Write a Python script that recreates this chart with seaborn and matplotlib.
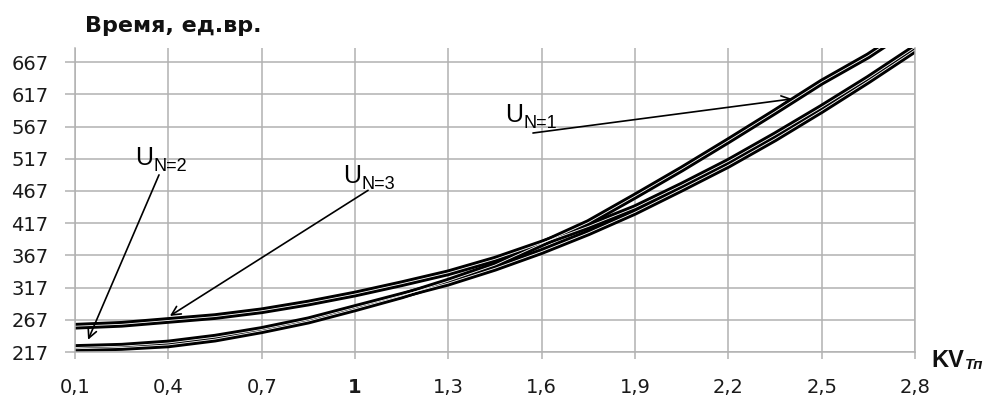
import numpy as np
import pandas as pd
import matplotlib
matplotlib.use("Agg")
import matplotlib.pyplot as plt
import seaborn as sns

# ---- data ----
kv = [0.1, 0.25, 0.4, 0.55, 0.7, 0.85, 1.0, 1.15, 1.3, 1.45, 1.6, 1.75,
      1.9, 2.05, 2.2, 2.35, 2.5, 2.65, 2.8]
u_n1 = [222, 224, 228, 237, 250, 265, 284, 304, 327, 352, 385, 418,
        459, 501, 545, 590, 636, 677, 725]
u_n2 = [224, 226, 231, 240, 252, 267, 286, 305, 324, 347, 373, 402,
        434, 470, 507, 548, 592, 638, 686]
u_n3 = [257, 260, 266, 272, 281, 293, 307, 323, 340, 361, 386, 412,
        441, 476, 513, 554, 597, 642, 690]
series_names = ["U_N=1", "U_N=2", "U_N=3"]

x_ticks = [0.1, 0.4, 0.7, 1.0, 1.3, 1.6, 1.9, 2.2, 2.5, 2.8]
x_tick_labels = ["0,1", "0,4", "0,7", "1", "1,3", "1,6", "1,9", "2,2", "2,5", "2,8"]
y_ticks = [217, 267, 317, 367, 417, 467, 517, 567, 617, 667]
y_title = "Время, ед.вр."

df = pd.DataFrame({
    "kv": kv * 3,
    "t": u_n1 + u_n2 + u_n3,
    "series": sum([[n] * len(kv) for n in series_names], []),
})

sns.set_theme(style="white")
plt.rcParams["font.family"] = ["DejaVu Sans"]

fig = plt.figure(figsize=(9.89, 4.01), dpi=100)
ax = fig.add_axes([75 / 989, 1 - 352 / 401, 840 / 989, 304 / 401])

grid_c = "#b2b2b2"
ax.set_xlim(0.1, 2.8)
ax.set_ylim(217, 689)
ax.set_xticks(x_ticks)
ax.set_xticklabels(x_tick_labels)
ax.set_yticks(y_ticks)
ax.grid(True, color=grid_c, lw=1.1)
ax.set_axisbelow(True)
ax.spines["top"].set_visible(False)
for s in ["left", "bottom", "right"]:
    ax.spines[s].set_color(grid_c)
    ax.spines[s].set_linewidth(1.1)
ax.tick_params(axis="x", which="both", bottom=True, length=5, width=1.1,
               color=grid_c, pad=14, labelsize=14, labelcolor="#1a1a1a")
ax.tick_params(axis="y", which="both", left=True, length=7, width=1.1,
               color=grid_c, pad=12, labelsize=14, labelcolor="#1a1a1a")
for lbl in ax.get_xticklabels():
    if lbl.get_text() == "1":
        lbl.set_fontweight("bold")

# double-line curves: heavy black outline with thin white core
sns.lineplot(data=df, x="kv", y="t", hue="series", palette=["black"] * 3,
             lw=4.8, legend=False, ax=ax, sort=False)
sns.lineplot(data=df, x="kv", y="t", hue="series", palette=["white"] * 3,
             lw=0.6, legend=False, ax=ax, sort=False)
for ln in ax.lines:
    ln.set_solid_capstyle("butt")
    ln.set_solid_joinstyle("round")
ax.set_xlabel("")
ax.set_ylabel("")

# annotations
arrow = dict(arrowstyle="->", color="black", lw=1.2, mutation_scale=16,
             shrinkA=0, shrinkB=0)


def u_label(x, y, sub):
    ax.text(x, y, "U", family="Liberation Sans", fontsize=18, color="black")
    ax.annotate(sub, xy=(x, y), xytext=(13.5, -4), textcoords="offset points",
                family="Liberation Sans", fontsize=13, color="black")


ax.annotate("", xy=(2.405, 610), xytext=(1.572, 557), arrowprops=arrow)
u_label(1.482, 574, "N=1")
ax.annotate("", xy=(0.142, 236), xytext=(0.370, 492), arrowprops=arrow)
u_label(0.293, 507, "N=2")
ax.annotate("", xy=(0.405, 273), xytext=(1.042, 468), arrowprops=arrow)
u_label(0.961, 479, "N=3")

# axis titles
fig.text(85 / 989, 1 - 32 / 401, y_title, family="DejaVu Sans",
         fontweight="bold", fontsize=16, color="#111111")
fig.text(931 / 989, 1 - 367 / 401, "KV", family="Liberation Sans",
         fontweight="bold", fontsize=17, color="#111111")
fig.text(965 / 989, 1 - 369 / 401, "Тп", family="Liberation Sans",
         fontweight="bold", style="italic", fontsize=11, color="#111111")

fig.savefig("out.png", dpi=100)
